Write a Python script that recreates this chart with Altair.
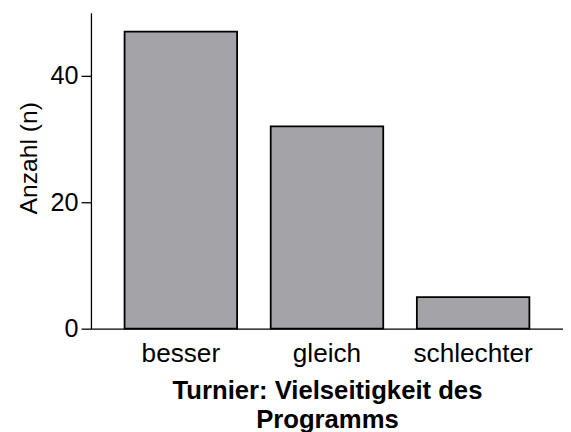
import altair as alt
import pandas as pd

categories = ["besser", "gleich", "schlechter"]
counts = [47, 32, 5]
y_ticks = [0, 20, 40]

df = pd.DataFrame({"kat": categories, "n": counts})

FONT = "Liberation Sans"

chart = alt.Chart(df).mark_bar(
    color="#a4a3a8", stroke="black", strokeWidth=1.8
).encode(
    x=alt.X(
        "kat:N",
        sort=categories,
        scale=alt.Scale(paddingInner=0.23, paddingOuter=0.23),
        axis=alt.Axis(
            title=["Turnier: Vielseitigkeit des", "Programms"],
            titleFont=FONT, titleFontSize=26, titleFontWeight="bold",
            titleColor="black", titleLineHeight=30, titlePadding=11,
            labelFont=FONT, labelFontSize=26.5, labelColor="black",
            labelAngle=0, labelPadding=12,
            ticks=False, tickSize=0,
            domainColor="black", domainWidth=1.3,
        ),
    ),
    y=alt.Y(
        "n:Q",
        scale=alt.Scale(domain=[0, 50], nice=False),
        axis=alt.Axis(
            title="Anzahl (n)", values=y_ticks, grid=False,
            titleFont=FONT, titleFontSize=25, titleFontWeight="normal",
            titleColor="black", titlePadding=9, titleY=147,
            labelFont=FONT, labelFontSize=25.5, labelColor="black",
            labelPadding=3, tickSize=10, tickColor="black", tickWidth=1.3,
            domainColor="black", domainWidth=1.3,
        ),
    ),
).properties(
    width=478, height=320,
    padding={"left": 84, "top": 2, "right": 0, "bottom": 108},
    autosize=alt.AutoSizeParams(type="none"),
    background="white",
).configure_view(stroke=None)

chart.save("out.html", embed_options={"renderer": "svg", "actions": False})
